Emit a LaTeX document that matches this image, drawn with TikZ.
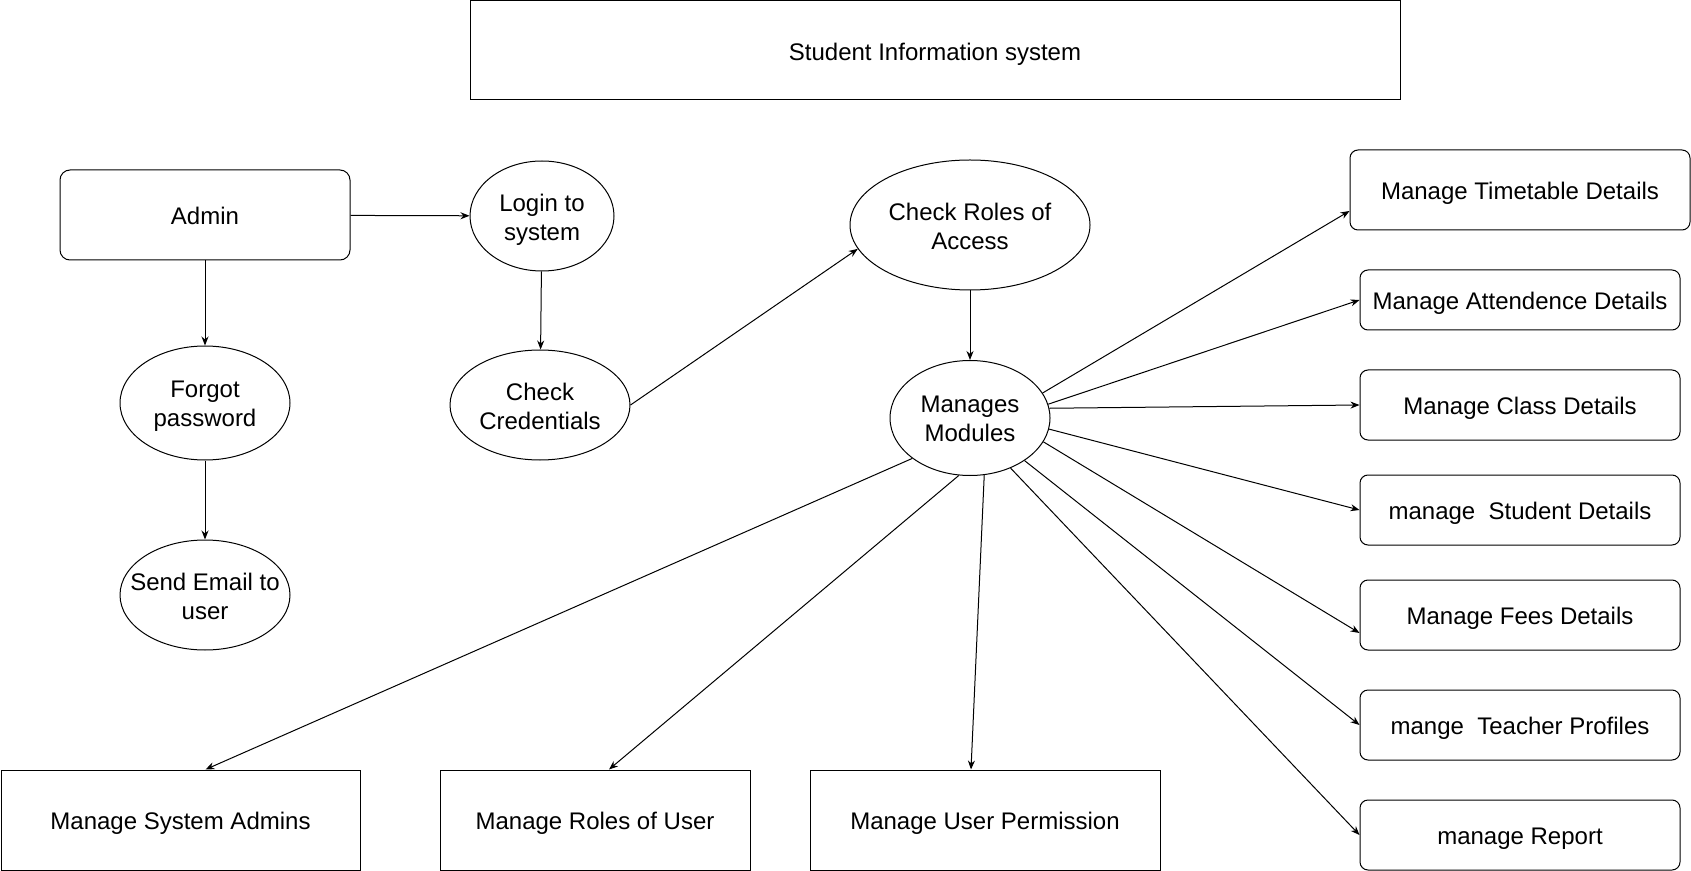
\documentclass[tikz,border=0pt]{standalone}
\usepackage{fontspec}
\setmainfont{Liberation Sans}
\usetikzlibrary{arrows.meta,calc,shapes.geometric}
\begin{document}
\begin{tikzpicture}[x=0.5pt,y=-0.5pt,
  every node/.style={font=\fontsize{12}{14.5}\selectfont, align=center, inner sep=0pt, line width=0.5pt},
  sqbox/.style 2 args={draw, rectangle, minimum width=#1, minimum height=#2, text height=9.8pt, text depth=0pt},
  rbox/.style 2 args={draw, rectangle, rounded corners=4pt, minimum width=#1, minimum height=#2, text height=9.8pt, text depth=0pt},
  oval/.style n args={3}{draw, ellipse, minimum width=#1, minimum height=#2, label={[yshift=-0.5pt, text depth=0pt]center:#3}},
  arr/.style={-{Stealth[length=4.5pt,width=3.5pt]}, line width=0.5pt}]
\useasboundingbox (0,0) rectangle (1691,871);

% title
\node[sqbox={465pt}{49.5pt}] (title) at (935,50.5) {Student Information system};

% left part
\node[rbox={145pt}{45pt}, rounded corners=5pt] (admin) at (205,215) {Admin};
\node[oval={72pt}{55pt}{Login to\\system}] (login) at (542,216) {};
\node[oval={90pt}{55pt}{Check\\Credentials}] (cc) at (540,405) {};
\node[oval={85pt}{57pt}{Forgot\\password}] (forgot) at (205,403) {};
\node[oval={85pt}{55pt}{Send Email to\\user}] (send) at (205,595) {};

% center
\node[oval={120pt}{65pt}{Check Roles of\\Access}] (roles) at (970,225) {};
\node[oval={80pt}{57.5pt}{Manages\\Modules}] (mm) at (970,418) {};

% right boxes
\node[rbox={170pt}{40pt}] (tt) at (1520,190) {Manage Timetable Details};
\node[rbox={160pt}{30pt}] (att) at (1520,300) {Manage Attendence Details};
\node[rbox={160pt}{35pt}] (cls) at (1520,405) {Manage Class Details};
\node[rbox={160pt}{35pt}] (stu) at (1520,510) {manage\ \ Student Details};
\node[rbox={160pt}{35pt}] (fee) at (1520,615) {Manage Fees Details};
\node[rbox={160pt}{35pt}] (tea) at (1520,725) {mange\ \ Teacher Profiles};
\node[rbox={160pt}{35pt}] (rep) at (1520,835) {manage Report};

% bottom boxes
\node[sqbox={179.5pt}{50pt}] (sysad) at (180.5,820) {Manage System Admins};
\node[sqbox={155pt}{50pt}] (rou) at (595,820) {Manage Roles of User};
\node[sqbox={175pt}{50pt}] (perm) at (985,820) {Manage User Permission};

% connectors
\draw[arr] (admin) -- (login);
\draw[arr] (admin) -- (forgot);
\draw[arr] (forgot) -- (send);
\draw[arr] (login) -- (cc);
\draw[arr] (cc.east) -- (roles.192.6);
\draw[arr] (roles) -- (mm);

\draw[arr] (mm.19.2) -- ($(tt.west)+(0,21)$);
\draw[arr] (mm.10.8) -- (att.west);
\draw[arr] (mm.7.3) -- (cls.west);
\draw[arr] (mm.-8.7) -- (stu.west);
\draw[arr] (mm.-18.9) -- ($(fee.west)+(0,18)$);
\draw[arr] (mm.-38.9) -- (tea.west);
\draw[arr] (mm.-51) -- (rep.west);
\draw[arr] (mm.-76.8) -- ($(perm.north)+(-14,0)$);
\draw[arr] (mm.-101) -- ($(rou.north)+(14,0)$);
\draw[arr] (mm.215.3) -- ($(sysad.north)+(25,0)$);
\end{tikzpicture}
\end{document}
